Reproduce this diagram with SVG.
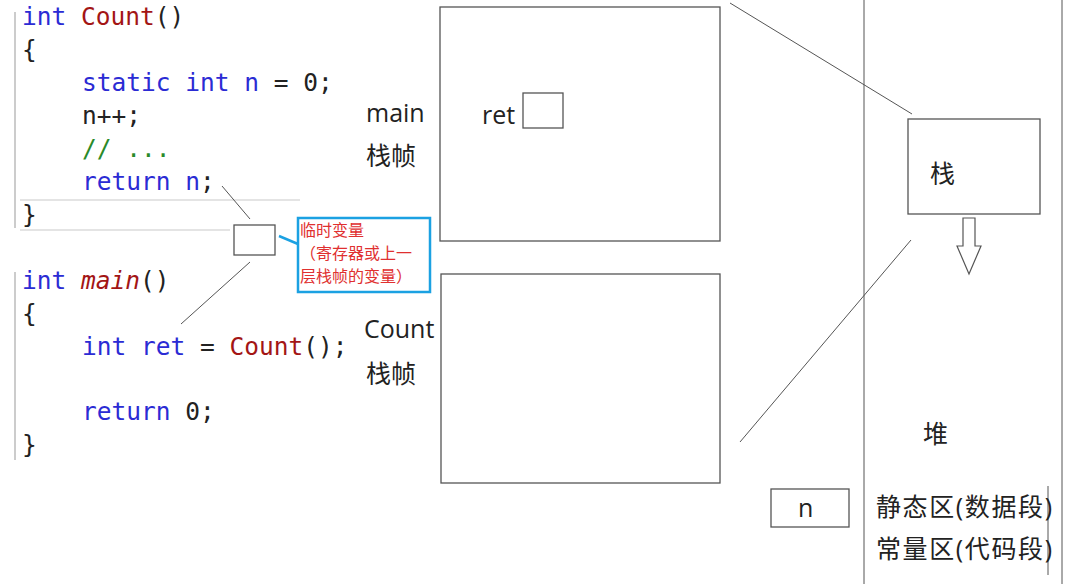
<svg xmlns="http://www.w3.org/2000/svg" width="1074" height="584" viewBox="0 0 1074 584">
<style>
.code{font-family:"DejaVu Sans Mono",monospace;font-size:24.5px}
.kw{fill:#2b2bd4}.fn{fill:#a31515}.pl{fill:#222}.cm{fill:#2a8a2a}
.lbl{font-family:"Open Sans","Noto Sans CJK SC",sans-serif;font-size:25px;fill:#222}
.box{fill:none;stroke:#555;stroke-width:1.3}
.ln{stroke:#555;stroke-width:1;fill:none}
.red{font-family:"Noto Sans CJK SC",serif;font-size:16px;fill:#e03030}
</style>
<rect width="1074" height="584" fill="#fff"/>
<g id="code">
<line x1="15" y1="12" x2="15" y2="228" stroke="#ccc" stroke-width="2"/>
<line x1="15" y1="272" x2="15" y2="460" stroke="#ccc" stroke-width="2"/>
<line x1="20" y1="200" x2="300" y2="200" stroke="#e4e4e4" stroke-width="2"/>
<line x1="20" y1="230" x2="230" y2="230" stroke="#e4e4e4" stroke-width="2"/>
<text class="code" x="22" y="25"><tspan class="kw">int</tspan><tspan class="fn"> Count</tspan><tspan class="pl">()</tspan></text>
<text class="code pl" x="22" y="58">{</text>
<text class="code" x="82" y="91"><tspan class="kw">static int n</tspan><tspan class="pl"> = 0;</tspan></text>
<text class="code pl" x="82" y="124">n++;</text>
<text class="code cm" x="82" y="157">// ...</text>
<text class="code" x="82" y="190"><tspan class="kw">return n</tspan><tspan class="pl">;</tspan></text>
<text class="code pl" x="22" y="223">}</text>
<text class="code" x="22" y="289"><tspan class="kw">int</tspan><tspan class="fn" font-style="italic"> main</tspan><tspan class="pl">()</tspan></text>
<text class="code pl" x="22" y="322">{</text>
<text class="code" x="82" y="355"><tspan class="kw">int ret</tspan><tspan class="pl"> = </tspan><tspan class="fn">Count</tspan><tspan class="pl">();</tspan></text>
<text class="code" x="82" y="420"><tspan class="kw">return</tspan><tspan class="pl"> 0;</tspan></text>
<text class="code pl" x="22" y="453">}</text>
</g>
<g id="connectors">
<line class="ln" x1="222" y1="186" x2="250" y2="219"/>
<line class="ln" x1="250" y1="262" x2="181" y2="324"/>
<line x1="279" y1="236" x2="298" y2="244" stroke="#1ba1e2" stroke-width="2.5"/>
<line class="ln" x1="730" y1="3" x2="912" y2="114"/>
<line class="ln" x1="740" y1="442" x2="911" y2="240"/>
</g>
<g id="temp"><rect class="box" x="234" y="225" width="41" height="30"/></g>
<g id="note">
<rect x="298" y="218" width="132" height="74" fill="none" stroke="#1ba1e2" stroke-width="2.5"/>
<text class="red" x="300" y="236">临时变量</text>
<text class="red" x="300" y="259">（寄存器或上一</text>
<text class="red" x="300" y="282">层栈帧的变量）</text>
</g>
<g id="mainframe">
<text class="lbl" x="366" y="122">main</text>
<text class="lbl" x="366" y="165">栈帧</text>
<rect class="box" x="440" y="7" width="280" height="234"/>
<text class="lbl" x="482" y="124">ret</text>
<rect class="box" x="523" y="93" width="40" height="35"/>
</g>
<g id="countframe">
<text class="lbl" x="364" y="338">Count</text>
<text class="lbl" x="366" y="383">栈帧</text>
<rect class="box" x="441" y="274" width="279" height="209"/>
</g>
<g id="memory">
<line class="ln" x1="864" y1="0" x2="864" y2="584"/>
<line class="ln" x1="1062" y1="0" x2="1062" y2="584"/>
<line class="ln" x1="1048" y1="486" x2="1048" y2="575"/>
</g>
<g id="stack">
<rect class="box" x="908" y="119" width="132" height="95"/>
<text class="lbl" x="930" y="183">栈</text>
<path d="M963 218H975V246H981L969 274L957 246H963Z" fill="#fff" stroke="#555" stroke-width="1.2"/>
</g>
<g id="heap"><text class="lbl" x="923" y="443">堆</text></g>
<g id="nbox">
<rect class="box" x="771" y="489" width="78" height="38"/>
<text class="lbl" x="798" y="517">n</text>
</g>
<g id="static"><text class="lbl" x="876" y="516" textLength="176">静态区(数据段)</text></g>
<g id="const"><text class="lbl" x="876" y="558" textLength="176">常量区(代码段)</text></g>
</svg>
